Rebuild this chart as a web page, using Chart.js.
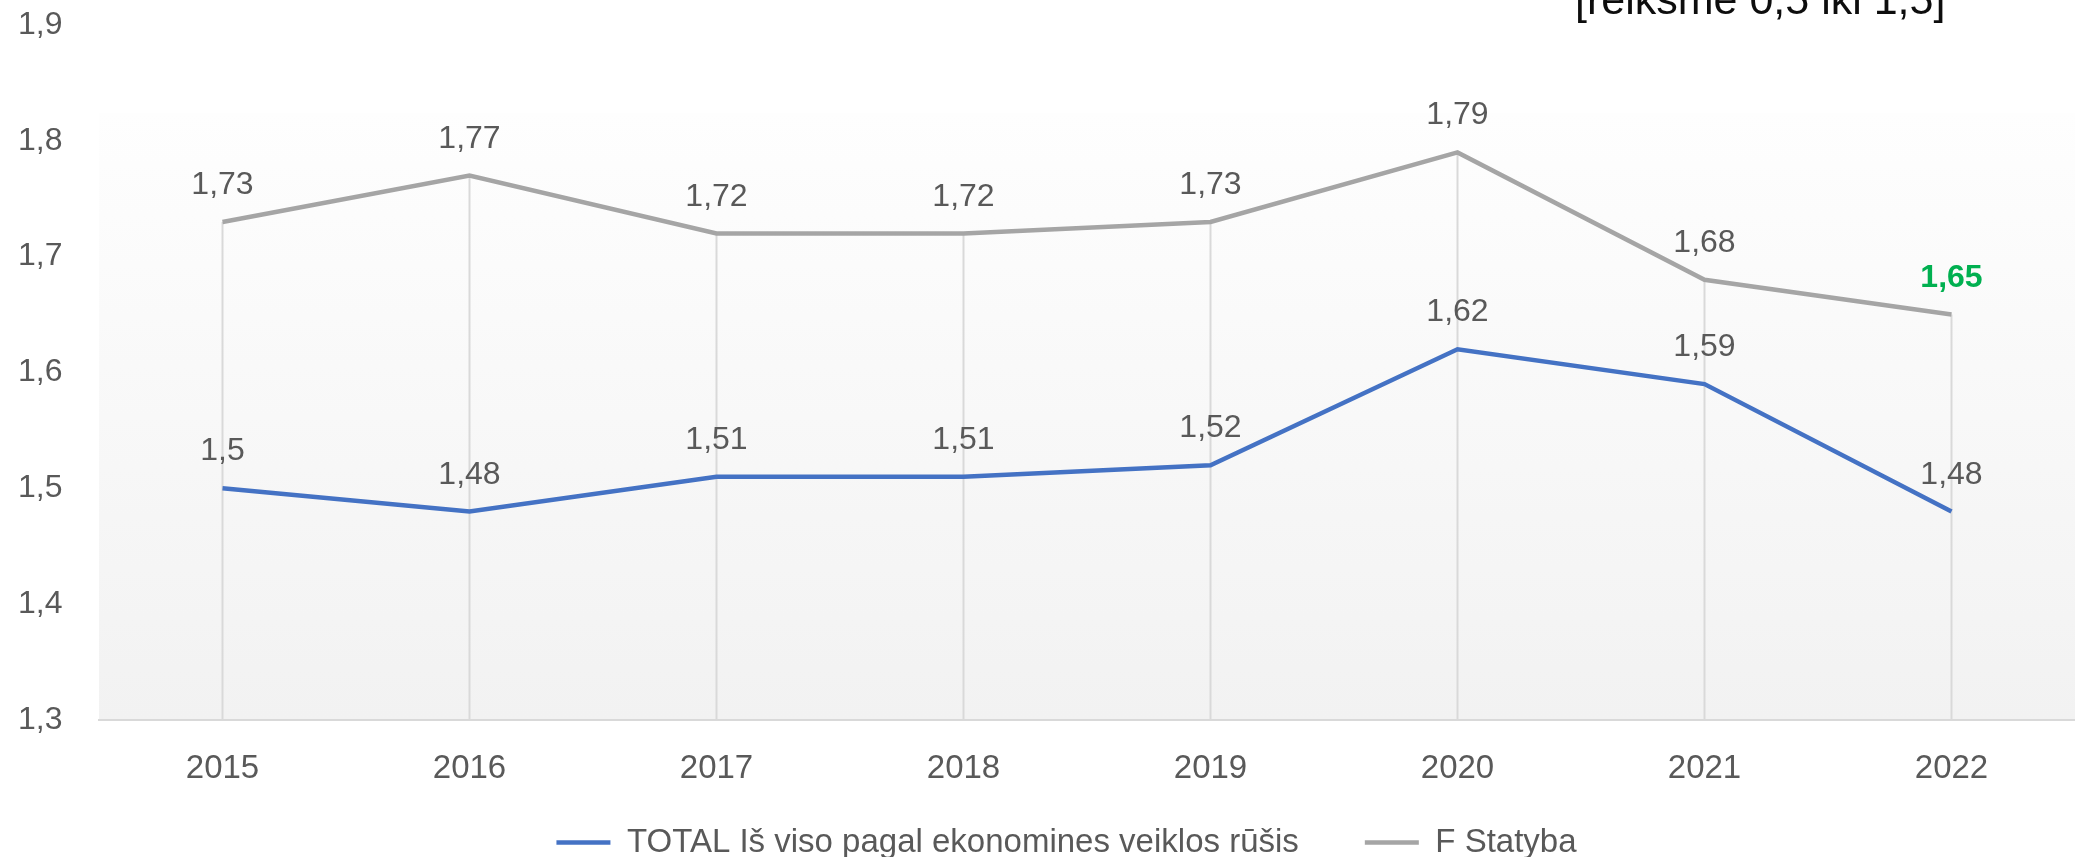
<!DOCTYPE html>
<html>
<head>
<meta charset="utf-8">
<script src="https://cdn.jsdelivr.net/npm/chart.js@4"></script>
<style>
  html, body { margin: 0; padding: 0; background: #ffffff; overflow: hidden; }
  #wrap { position: relative; width: 2075px; height: 857px; }
  #note { position: absolute; left: 1575px; top: -22px; font-family: "Liberation Sans", Arial, sans-serif; font-size: 43px; line-height: 43px; color: #0d0d0d; white-space: nowrap; }
</style>
</head>
<body>
<div id="wrap">
  <canvas id="c" width="2075" height="857"></canvas>
  <div id="note">[reikšmė 0,5 iki 1,5]</div>
</div>
<script>
const years = ['2015', '2016', '2017', '2018', '2019', '2020', '2021', '2022'];
const totalValues = [1.5, 1.48, 1.51, 1.51, 1.52, 1.62, 1.59, 1.48];
const statybaValues = [1.73, 1.77, 1.72, 1.72, 1.73, 1.79, 1.68, 1.65];
const seriesNames = ['TOTAL Iš viso pagal ekonomines veiklos rūšis', 'F Statyba'];
const yMin = 1.3, yMax = 1.9, yStep = 0.1;

const FONT = '"Liberation Sans", Arial, sans-serif';
const fmt = v => String(Math.round(v * 100) / 100).replace('.', ',');

const bgPlugin = {
  id: 'bgPlugin',
  beforeDraw(chart) {
    const {ctx, chartArea} = chart;
    const top = 113;
    const g = ctx.createLinearGradient(0, top, 0, chartArea.bottom);
    g.addColorStop(0, '#fefefe');
    g.addColorStop(1, '#f2f2f2');
    ctx.save();
    ctx.fillStyle = g;
    ctx.fillRect(chartArea.left, top, chartArea.right - chartArea.left, chartArea.bottom - top);
    ctx.restore();
  }
};

const legendShift = {
  id: 'legendShift',
  afterLayout(chart) {
    const lg = chart.legend;
    if (lg) {
      const h = lg.bottom - lg.top;
      lg.top = 760;
      lg.bottom = 760 + h;
      const w = lg.right - lg.left;
      lg.left += 20;
      lg.right = lg.left + w;
    }
  }
};

const dropLines = {
  id: 'dropLines',
  beforeDatasetsDraw(chart) {
    const {ctx, scales: {x, y}} = chart;
    ctx.save();
    ctx.strokeStyle = '#d9d9d9';
    ctx.lineWidth = 2;
    years.forEach((yr, i) => {
      const maxV = Math.max(totalValues[i], statybaValues[i]);
      const px = x.getPixelForValue(i);
      ctx.beginPath();
      ctx.moveTo(px, y.getPixelForValue(maxV));
      ctx.lineTo(px, y.getPixelForValue(yMin));
      ctx.stroke();
    });
    ctx.restore();
  }
};

const dataLabels = {
  id: 'dataLabels',
  afterDatasetsDraw(chart) {
    const {ctx} = chart;
    ctx.save();
    ctx.textAlign = 'center';
    ctx.textBaseline = 'alphabetic';
    chart.data.datasets.forEach((ds, di) => {
      const meta = chart.getDatasetMeta(di);
      meta.data.forEach((pt, i) => {
        const highlight = (di === 1 && i === ds.data.length - 1);
        ctx.font = (highlight ? 'bold ' : '') + '32px ' + FONT;
        ctx.fillStyle = highlight ? '#00b050' : '#595959';
        ctx.fillText(fmt(ds.data[i]), pt.x, pt.y - 28);
      });
    });
    ctx.restore();
  }
};

new Chart(document.getElementById('c'), {
  type: 'line',
  data: {
    labels: years,
    datasets: [
      { label: seriesNames[0], data: totalValues, borderColor: '#4472c4', backgroundColor: '#4472c4', borderWidth: 4.5, pointRadius: 0, tension: 0, fill: false },
      { label: seriesNames[1], data: statybaValues, borderColor: '#a5a5a5', backgroundColor: '#a5a5a5', borderWidth: 4.5, pointRadius: 0, tension: 0, fill: false }
    ]
  },
  options: {
    responsive: false,
    animation: false,
    devicePixelRatio: 1,
    layout: { padding: { left: 18, right: 0, top: 25, bottom: -42 } },
    plugins: {
      legend: {
        position: 'bottom',
        labels: {
          usePointStyle: true,
          pointStyle: 'line',
          pointStyleWidth: 54,
          padding: 66,
          color: '#595959',
          font: { family: FONT, size: 33 }
        }
      },
      tooltip: { enabled: false },
      title: { display: false }
    },
    scales: {
      x: {
        offset: true,
        grid: { display: false, drawTicks: false },
        border: { display: true, color: '#d9d9d9', width: 2 },
        ticks: { color: '#595959', padding: 29, font: { family: FONT, size: 33 } },
        afterFit(scale) { scale.height = 70; }
      },
      y: {
        min: yMin,
        max: yMax,
        grid: { display: false, drawTicks: false },
        border: { display: false },
        ticks: {
          stepSize: yStep,
          color: '#595959',
          padding: 0,
          crossAlign: 'far',
          font: { family: FONT, size: 32 },
          callback: v => v.toFixed(1).replace('.', ',')
        },
        afterFit(scale) { scale.width = 81; }
      }
    }
  },
  plugins: [bgPlugin, legendShift, dropLines, dataLabels]
});
</script>
</body>
</html>
